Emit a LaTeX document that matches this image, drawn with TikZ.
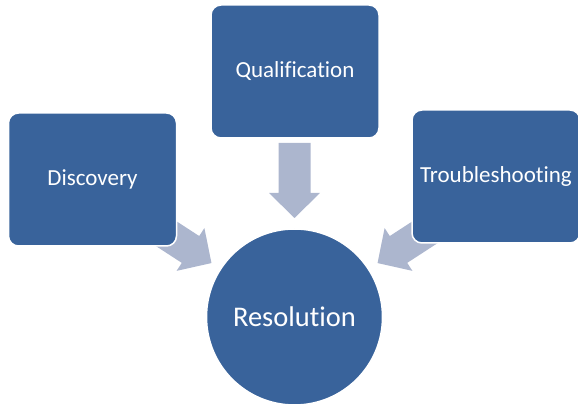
\documentclass[tikz,border=0pt]{standalone}
\usepackage{fontspec}
\setmainfont{Carlito}[Ligatures = NoCommon]
\definecolor{boxblue}{RGB}{57, 99, 155}
\definecolor{arrowgrey}{RGB}{172, 182, 206}

\begin{document}
\begin{tikzpicture}[x = 1pt, y = 1pt,
		stage/.style = {draw = white, line width = 1.5pt, fill = boxblue, rounded corners = 10pt,
			minimum width = 168pt, minimum height = 133pt, text = white,
			font = \fontsize{23}{27}\selectfont},
		hub/.style = {circle, draw = white, line width = 1.5pt, fill = boxblue, minimum size = 176pt,
			text = white, font = \fontsize{28.5}{34}\selectfont}]
		\useasboundingbox (0, 0) rectangle (578, 406) ;
		\node [hub] (res) at (294.5, 89) {Resolution} ;
		\begin{scope} % Arrows into the hub
			\foreach \a in {147, 90, 33}{
				\fill [arrowgrey, shift = {(res.center)}, rotate = \a]
					(99, 0) -- (124, 25.5) -- (124, 16) -- (174, 16)
					-- (174, -16) -- (124, -16) -- (124, -25.5) -- cycle ;
			}
		\end{scope}
		\node [stage] (qual) at (295, 334.5) {Qualification} ;
		\node [stage] (disc) at (92.5, 226.5) {Discovery} ;
		\node [stage] (trou) at (496, 229.5) {Troubleshooting} ;
	\end{tikzpicture}
\end{document}
